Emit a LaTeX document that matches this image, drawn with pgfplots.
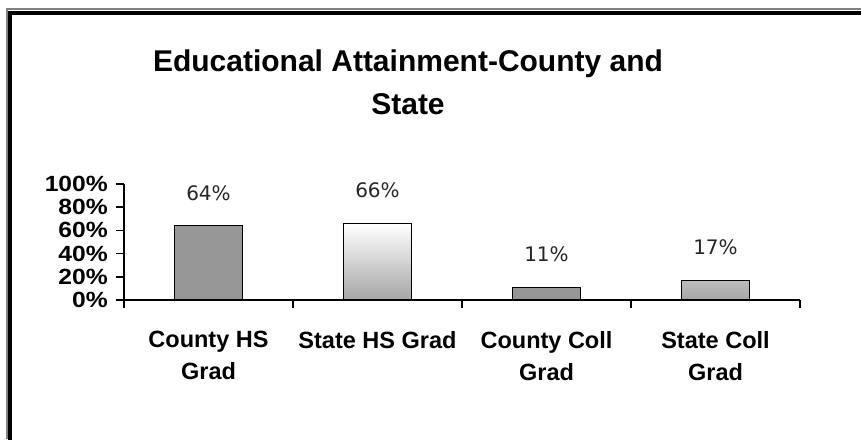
\documentclass[border=0pt]{standalone}
\usepackage{fontspec}
\setmainfont{Liberation Sans}
\newfontfamily\valfont{DejaVu Sans}
\newfontfamily\tickfont[FakeStretch=1.12]{Liberation Sans}
\usepackage{pgfplots}
\pgfplotsset{compat=1.18}
\definecolor{countygray}{RGB}{150,150,150}
\begin{document}
\begin{tikzpicture}
\useasboundingbox (0pt,0pt) rectangle (861pt,439pt);
\fill[white] (0pt,0pt) rectangle (861pt,439pt);
% frame
\draw[line width=2pt, black!50] (6.5pt,0pt) -- (6.5pt,429.5pt) -- (861pt,429.5pt);
\draw[line width=4.5pt, black, line cap=rect] (9.8pt,-5pt) -- (9.8pt,426.2pt) -- (870pt,426.2pt);
% title
\node[anchor=north, align=center, inner sep=0pt, font=\fontsize{30}{43}\selectfont\bfseries] at (408pt,389pt) {Educational Attainment-County and\\State};
\begin{axis}[
  at={(124pt,139pt)}, anchor=origin,
  scale only axis, width=676pt, height=116pt,
  xmin=0, xmax=4, ymin=0, ymax=100,
  axis x line*=bottom, axis y line*=left,
  axis line style={line width=1.8pt, -},
  every tick/.style={line width=1.6pt, black},
  tick align=outside, major tick length=8pt,
  ytick={0,20,40,60,80,100},
  yticklabels={0\%,20\%,40\%,60\%,80\%,100\%},
  yticklabel style={font=\tickfont\fontsize{22}{22}\selectfont\bfseries, inner sep=0pt, xshift=-8pt},
  xtick={0,1,2,3,4},
  xticklabels={},
  extra x ticks={0.5,1.5,2.5,3.5},
  extra x tick labels={County HS\\Grad, State HS Grad, County Coll\\Grad, State Coll\\Grad},
  extra x tick style={major tick length=0pt, tick style={draw=none}},
  xticklabel style={font=\fontsize{23.5}{32}\selectfont\bfseries, align=center, inner sep=0pt, anchor=north, yshift=-31pt},
  ybar, bar width=0.4, bar shift=0pt,
  clip=false,
  nodes near coords={\pgfmathprintnumber[fixed,precision=0,assume math mode=true]{\pgfplotspointmeta}\%},
  every node near coord/.append style={font=\valfont\fontsize{20}{20}\selectfont, color=black!85, anchor=center, yshift=33pt, inner sep=0pt},
]
\addplot[draw=black, line width=1.3pt, fill=countygray] coordinates {(0.5,64) (2.5,11)};
\addplot[draw=black, line width=1.3pt, top color=white, bottom color=black!35] coordinates {(1.5,66) (3.5,17)};
\end{axis}
\end{tikzpicture}
\end{document}
